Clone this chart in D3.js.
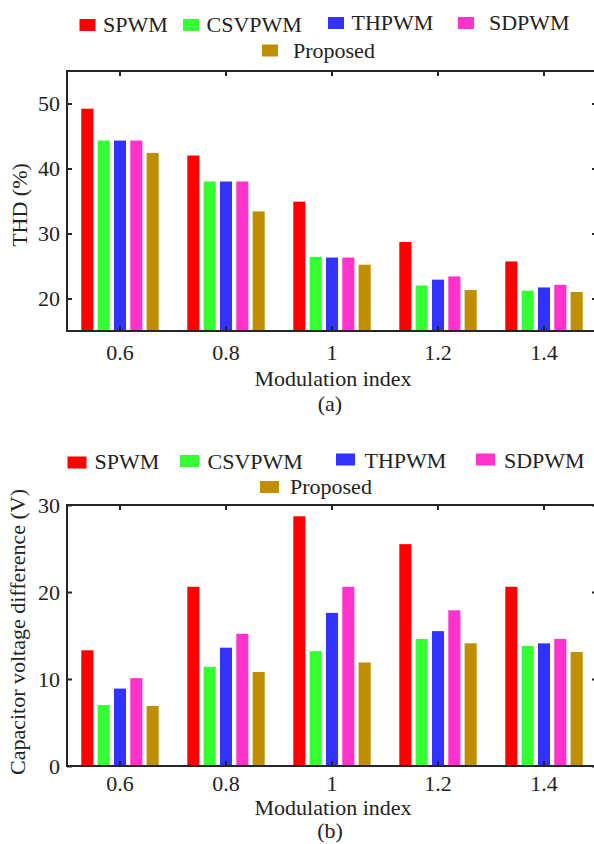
<!DOCTYPE html>
<html>
<head>
<meta charset="utf-8">
<script src="https://cdn.jsdelivr.net/npm/d3@7"></script>
<style>
  body { margin: 0; background: #fff; }
  svg text { font-family: "Liberation Serif", "Times New Roman", serif; fill: #222; }
</style>
</head>
<body>
<div id="chart"></div>
<script>
const categories = ['0.6', '0.8', '1', '1.2', '1.4'];
const seriesNames = ['SPWM', 'CSVPWM', 'THPWM', 'SDPWM', 'Proposed'];
const seriesColors = ['#ff0000', '#33ff33', '#3333ff', '#ff33cc', '#bf8f00'];

// THD (%) per series, one value per modulation index
const thdSPWM = [49.2, 42.0, 34.9, 28.7, 25.7];
const thdCSVPWM = [44.3, 38.0, 26.4, 22.0, 21.2];
const thdTHPWM = [44.3, 38.0, 26.3, 22.9, 21.7];
const thdSDPWM = [44.3, 38.0, 26.3, 23.4, 22.1];
const thdProposed = [42.4, 33.4, 25.2, 21.3, 21.0];
const thdTicks = [20, 30, 40, 50];

// capacitor voltage difference (V)
const capSPWM = [13.3, 20.6, 28.7, 25.5, 20.6];
const capCSVPWM = [7.0, 11.4, 13.2, 14.6, 13.8];
const capTHPWM = [8.9, 13.6, 17.6, 15.5, 14.1];
const capSDPWM = [10.1, 15.2, 20.6, 17.9, 14.6];
const capProposed = [6.9, 10.8, 11.9, 14.1, 13.1];
const capTicks = [0, 10, 20, 30];

const W = 594, H = 844;
const svg = d3.select('#chart').append('svg')
  .attr('width', W).attr('height', H)
  .attr('viewBox', `0 0 ${W} ${H}`);

function drawPanel(cfg) {
  const { top, bottom, left, right, domain, ticks, values, yTitle, yTitleX,
          tickBaseline, xTitleBaseline, captionBaseline, caption, legend } = cfg;
  const g = svg.append('g');

  const x = d3.scaleBand().domain(categories).range([left, right]);
  const half = x.bandwidth() * 0.385;
  const xs = d3.scaleBand().domain(seriesNames).range([-half, half])
    .paddingInner(0.26).paddingOuter(0.13);
  const y = d3.scaleLinear().domain(domain).range([bottom, top]);

  const rows = [];
  seriesNames.forEach((s, si) => {
    categories.forEach((c, ci) => rows.push({ s, c, v: values[si][ci], color: seriesColors[si] }));
  });

  g.append('g').selectAll('rect').data(rows).join('rect')
    .attr('x', d => x(d.c) + x.bandwidth() / 2 + xs(d.s))
    .attr('width', xs.bandwidth())
    .attr('y', d => y(d.v))
    .attr('height', d => bottom - y(d.v))
    .attr('fill', d => d.color);

  // axes, ticks pointing inward
  const fontSize = 22;
  g.append('g').attr('transform', `translate(0,${bottom})`)
    .call(d3.axisBottom(x).tickSize(-5).tickPadding(tickBaseline - bottom - 15.5))
    .call(a => a.select('.domain').remove())
    .call(a => a.selectAll('line').attr('stroke', '#262626').attr('stroke-width', 2))
    .call(a => a.selectAll('text').attr('font-size', fontSize).attr('fill', '#222'));
  g.append('g').attr('transform', `translate(0,${top})`)
    .call(d3.axisTop(x).tickSize(-5).tickFormat(''))
    .call(a => a.select('.domain').remove())
    .call(a => a.selectAll('line').attr('stroke', '#262626').attr('stroke-width', 2));
  g.append('g').attr('transform', `translate(${left},0)`)
    .call(d3.axisLeft(y).tickValues(ticks).tickSize(-5).tickPadding(7))
    .call(a => a.select('.domain').remove())
    .call(a => a.selectAll('line').attr('stroke', '#262626').attr('stroke-width', 2))
    .call(a => a.selectAll('text').attr('font-size', fontSize).attr('fill', '#222'));
  g.append('g').attr('transform', `translate(${right},0)`)
    .call(d3.axisRight(y).tickValues(ticks).tickSize(-5).tickFormat(''))
    .call(a => a.select('.domain').remove())
    .call(a => a.selectAll('line').attr('stroke', '#262626').attr('stroke-width', 2));

  g.append('rect')
    .attr('x', left).attr('y', top)
    .attr('width', right - left).attr('height', bottom - top)
    .attr('fill', 'none').attr('stroke', '#262626').attr('stroke-width', 2);

  g.append('text').attr('x', 333).attr('y', xTitleBaseline)
    .attr('text-anchor', 'middle').attr('font-size', fontSize).text('Modulation index');
  g.append('text').attr('x', 330).attr('y', captionBaseline)
    .attr('text-anchor', 'middle').attr('font-size', fontSize).text(caption);
  g.append('text')
    .attr('transform', `translate(${yTitleX},${cfg.yTitleY}) rotate(-90)`)
    .attr('text-anchor', 'middle').attr('font-size', fontSize).text(yTitle);

  const lg = g.append('g').selectAll('g').data(seriesNames).join('g');
  lg.append('rect')
    .attr('x', (d, i) => legend[i][0]).attr('y', (d, i) => legend[i][1])
    .attr('width', cfg.swatchW).attr('height', 12)
    .attr('fill', (d, i) => seriesColors[i]);
  lg.append('text')
    .attr('x', (d, i) => legend[i][2]).attr('y', (d, i) => legend[i][3])
    .attr('font-size', fontSize).text(d => d);
}

drawPanel({
  top: 71, bottom: 331, left: 67, right: 597,
  domain: [15, 55], ticks: thdTicks,
  values: [thdSPWM, thdCSVPWM, thdTHPWM, thdSDPWM, thdProposed],
  yTitle: 'THD (%)', yTitleX: 27, yTitleY: 205,
  tickBaseline: 360, xTitleBaseline: 386, captionBaseline: 411, caption: '(a)',
  swatchW: 16,
  legend: [[79.5, 19, 103, 32], [183, 19, 206.5, 32], [328, 17, 351.5, 29.5],
           [458, 17, 489, 29.5], [262, 44.5, 293, 57.5]]
});

drawPanel({
  top: 505, bottom: 766, left: 67, right: 597,
  domain: [0, 30], ticks: capTicks,
  values: [capSPWM, capCSVPWM, capTHPWM, capSDPWM, capProposed],
  yTitle: 'Capacitor voltage difference (V)', yTitleX: 25, yTitleY: 632,
  tickBaseline: 791, xTitleBaseline: 815, captionBaseline: 838, caption: '(b)',
  swatchW: 19,
  legend: [[67.5, 456.5, 94.5, 469], [180, 455, 207.5, 468.5], [336, 453.5, 364.5, 467.5],
           [476, 453.5, 504, 467.5], [260, 481, 290, 493.5]]
});
</script>
</body>
</html>
